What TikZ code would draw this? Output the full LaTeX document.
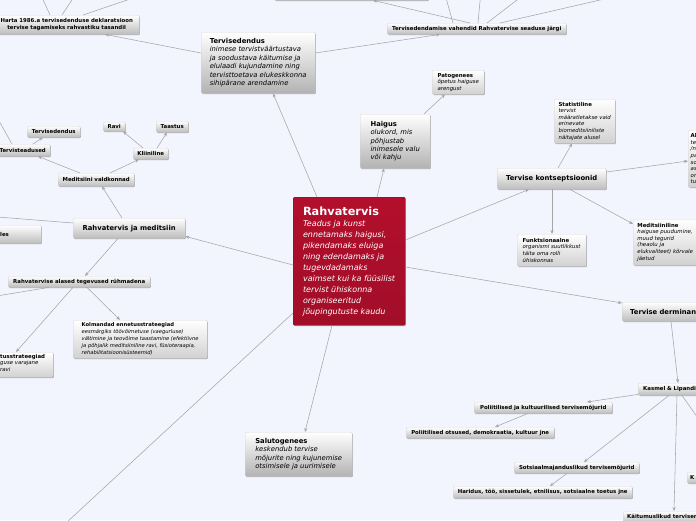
\documentclass[tikz,border=0pt]{standalone}
\usepackage{fontspec}
\setmainfont{DejaVu Sans}
\usetikzlibrary{arrows.meta,shadows}
\definecolor{bg}{HTML}{F2F5FD}
\definecolor{crim}{HTML}{B30F2C}
\definecolor{ln}{HTML}{A6A6A6}
\definecolor{bord}{HTML}{D4D4D4}
\tikzset{
  base/.style={anchor=north west, inner sep=0pt, draw=bord, line width=0.4pt, rounded corners=1.2pt,
    top color=white, bottom color=black!26,
    drop shadow={shadow xshift=0.7pt, shadow yshift=-0.9pt, opacity=0.3, fill=black}},
  lbl/.style={base, align=center, font=\fontsize{5.4}{6.6}\selectfont\bfseries},
  mid/.style={base, align=center, font=\fontsize{6.8}{8}\selectfont\bfseries},
  card/.style={base, align=left, bottom color=black!30, font=\fontsize{6.8}{8.4}\selectfont},
  mini/.style={base, align=left, bottom color=black!18, font=\fontsize{5.4}{6.6}\selectfont},
  cenbox/.style={base, top color=crim, bottom color=crim!90!black, draw=crim!80!black, text=white,
    align=left, font=\fontsize{8}{11}\selectfont},
  conn/.style={draw=ln, line width=0.55pt, -{Stealth[length=4pt,width=3.2pt]}},
  plain/.style={draw=ln, line width=0.55pt},
}
\begin{document}
\begin{tikzpicture}[x=1pt,y=-1pt]
\path[use as bounding box] (0,0) rectangle (696,520);
\fill[bg] (0,0) rectangle (696,520);

% central node
\node[cenbox, minimum width=112pt, minimum height=128pt] (cen) at (293,197)
 {{\fontsize{11.3}{13}\selectfont\bfseries Rahvatervis}\\\textit{Teadus ja kunst}\\\textit{ennetamaks haigusi,}\\\textit{pikendamaks eluiga}\\\textit{ning edendamaks ja}\\\textit{tugevdadamaks}\\\textit{vaimset kui ka füüsilist}\\\textit{tervist ühiskonna}\\\textit{organiseeritud}\\\textit{jõupingutuste kaudu}};

% top area
\node[lbl, minimum width=145pt, minimum height=19pt] (harta) at (-6,15) {Harta 1986.a tervisedenduse deklaratsioon\\tervise tagamiseks rahvastiku tasandil};
\node[lbl, minimum width=154pt, minimum height=20pt] (topb) at (274,-20) {};
\node[lbl, minimum width=179pt, minimum height=11pt] (vah) at (387,23) {Tervisedendamise vahendid Rahvatervise seaduse järgi};
\node[card, minimum width=114pt, minimum height=61pt] (terv) at (201,32) {\textbf{Tervisedendus}\\\textit{inimese tervistväärtustava}\\\textit{ja soodustava käitumise ja}\\\textit{elulaadi kujundamine ning}\\\textit{tervisttoetava elukeskkonna}\\\textit{sihipärane arendamine}};
\node[card, minimum width=70pt, minimum height=54pt] (haig) at (360,114) {\textbf{Haigus}\\\textit{olukord, mis}\\\textit{põhjustab}\\\textit{inimesele valu}\\\textit{või kahju}};
\node[mini, minimum width=52pt, minimum height=24pt] (pato) at (432,70) {\textbf{Patogenees}\\\textit{õpetus haiguse}\\\textit{arengust}};

% right area
\node[mid, minimum width=109pt, minimum height=21pt] (kont) at (497,168) {Tervise kontseptsioonid};
\node[mini, minimum width=61pt, minimum height=44pt] (stat) at (554,99) {\textbf{Statistiline}\\\textit{tervist}\\\textit{määratletakse vaid}\\\textit{erinevate}\\\textit{biomeditsiiniliste}\\\textit{näitajate alusel}};
\node[mini, text width=67pt, inner xsep=2.5pt, minimum height=57pt] (al) at (688,130) {\textbf{Al}\\\textit{te}\\\textit{/ne}\\\textit{pa}\\\textit{so}\\\textit{as}\\\textit{or}\\\textit{tu}};
\node[mini, minimum width=69pt, minimum height=32pt] (funk) at (517,234) {\textbf{Funktsionaalne}\\\textit{organismi suutlikkust}\\\textit{täita oma rolli}\\\textit{ühiskonnas}};
\node[mini, minimum width=64pt, minimum height=46pt] (medi) at (633,219) {\textbf{Meditsiiniline}\\\textit{haiguse puudumine,}\\\textit{muud tegurid}\\\textit{(heaolu ja}\\\textit{elukvaliteet) kõrvale}\\\textit{jäetud}};
\node[mid, align=left, text width=122pt, inner xsep=8pt, minimum height=19pt] (derm) at (622,302) {Tervise derminan};
\node[lbl, align=left, text width=112pt, inner xsep=5pt, minimum height=12pt] (kas) at (638,383) {Kasmel \& Lipandi};
\node[lbl, minimum width=138pt, minimum height=11pt] (pol1) at (474,402) {Poliitilised ja kultuurilised tervisemõjurid};
\node[lbl, minimum width=148pt, minimum height=11pt] (pol2) at (406,427) {Poliitilised otsused, demokraatia, kultuur jne};
\node[lbl, minimum width=125pt, minimum height=11pt] (sots) at (514,462) {Sotsiaalmajanduslikud tervisemõjurid};
\node[lbl, minimum width=179pt, minimum height=12pt] (har) at (453,486) {Haridus, töö, sissetulek, etnilisus, sotsiaalne toetus jne};
\node[lbl, align=left, text width=129pt, inner xsep=4pt, minimum height=12pt] (kait) at (623,511) {Käitumuslikud tervisemõjurid};
\node[lbl, align=left, text width=67pt, inner xsep=3pt, minimum height=11pt] (kk) at (687,472) {K};

% left area
\node[mid, minimum width=112pt, minimum height=20pt] (rjm) at (73,218) {Rahvatervis ja meditsiin};
\node[lbl, minimum width=101pt, minimum height=18pt] (lesb) at (-60,225) {};
\node[anchor=west, inner sep=0pt, font=\fontsize{5.4}{6.6}\selectfont\bfseries] (lest) at (0,234) {les};
\node[lbl, minimum width=76pt, minimum height=13pt] (mv) at (58,173) {Meditsiini valdkonnad};
\node[lbl, minimum width=55pt, minimum height=12pt] (tt) at (-5,144) {Tervisteadused};
\node[lbl, minimum width=53pt, minimum height=11pt] (td) at (27,126) {Tervisedendus};
\node[lbl, minimum width=35pt, minimum height=11pt] (kli) at (133,148) {Kliiniline};
\node[lbl, minimum width=22pt, minimum height=9pt] (ravi) at (103,122) {Ravi};
\node[lbl, minimum width=32pt, minimum height=11pt] (taas) at (156,121) {Taastus};
\node[lbl, minimum width=142pt, minimum height=11pt] (rag) at (8,276) {Rahvatervise alased tegevused rühmadena};
\node[mini, minimum width=134pt, minimum height=38pt, font=\fontsize{5.2}{7}\selectfont] (kolm) at (73,320) {\textbf{Kolmandad ennetusstrateegiad}\\\textit{eesmärgiks töövõimetuse (vaegurluse)}\\\textit{vältimine ja teovõime taastamine (efektiivne}\\\textit{ja põhjalik meditsiiniline ravi, füsioteraapia,}\\\textit{rehabilitatsioonisüsteemid)}};
\node[mini, minimum width=113pt, minimum height=25pt] (teib) at (-60,352) {};
\node[anchor=north west, inner sep=0pt, align=left, font=\fontsize{5.4}{6.6}\selectfont] (teit) at (0,354) {\textbf{tusstrateegiad}\\\textit{guse varajane}\\\textit{ravi}};
\node[card, minimum width=107pt, minimum height=44pt] (salu) at (245,432) {\textbf{Salutogenees}\\\textit{keskendub tervise}\\\textit{mõjurite ning kujunemise}\\\textit{otsimisele ja uurimisele}};

% off-canvas ends
\coordinate (o1) at (441,-20);
\coordinate (o2) at (482,-20);
\coordinate (o3) at (543,-20);
\coordinate (o4) at (687,-20);
\coordinate (h1) at (34,-20);
\coordinate (h2) at (85,-20);
\coordinate (h3) at (186,-20);
\coordinate (l1) at (-40,214);
\coordinate (l2) at (-10,105);
\coordinate (l3) at (-40,302);
\coordinate (osw) at (26,560);

% connectors from the centre
\draw[conn] ([xshift=24pt]cen.north west) -- ([xshift=72pt]terv.south west);
\draw[conn] ([xshift=84pt]cen.north west) -- ([xshift=24pt]haig.south west);
\draw[conn] ([yshift=-43pt]cen.north east) -- ([xshift=32pt]kont.south west);
\draw[conn] ([yshift=-70pt]cen.north east) -- ([yshift=-1pt]derm.north west);
\draw[conn] ([yshift=-68pt]cen.north west) -- ([yshift=2pt]rjm.south east);
\draw[plain] ([yshift=-116pt]cen.north west) -- (osw);
\draw[conn] ([xshift=39pt]cen.south west) -- ([xshift=60pt]salu.north west);

% top
\draw[conn] ([yshift=-21pt]terv.north east) -- ([xshift=53pt]vah.south west);
\draw[conn] ([yshift=-21pt]terv.north west) -- ([xshift=111pt]harta.south west);
\draw[conn] ([xshift=83pt]vah.north west) -- ([xshift=99pt]topb.south west);
\draw[plain] ([xshift=66pt]vah.north west) -- (o1);
\draw[plain] ([xshift=91pt]vah.north west) -- (o2);
\draw[plain] ([xshift=100pt]vah.north west) -- (o3);
\draw[plain] ([xshift=113pt]vah.north west) -- (o4);
\draw[plain] ([xshift=56pt]harta.north west) -- (h1);
\draw[plain] ([xshift=68pt]harta.north west) -- (h2);
\draw[plain] ([xshift=89pt]harta.north west) -- (h3);
\draw[conn] ([xshift=64pt]haig.north west) -- ([xshift=13pt]pato.south west);

% right
\draw[conn] ([xshift=61pt]kont.north west) -- ([xshift=18pt]stat.south west);
\draw[conn] ([yshift=-4pt]kont.north east) -- ([yshift=-31pt]al.north west);
\draw[conn] ([xshift=55pt]kont.south west) -- ([xshift=35pt]funk.north west);
\draw[conn] ([xshift=73pt]kont.south west) -- ([yshift=-5pt]medi.north west);
\draw[conn] ([xshift=49pt]derm.south west) -- ([xshift=40pt]kas.north west);
\draw[conn] ([yshift=1pt]kas.south west) -- ([xshift=113pt]pol1.north west);
\draw[conn] ([xshift=31pt]kas.south west) -- ([xshift=70pt]sots.north west);
\draw[conn] ([xshift=39pt]kas.south west) -- ([xshift=51pt]kait.north west);
\draw[conn] ([xshift=44pt]kas.south west) -- ([xshift=49pt]kk.north west);
\draw[conn] ([xshift=54pt]pol1.south west) -- ([xshift=89pt]pol2.north west);
\draw[conn] ([xshift=53pt]sots.south west) -- ([xshift=97pt]har.north west);

% left
\draw[conn] ([xshift=49pt]rjm.north west) -- ([xshift=44pt]mv.south west);
\draw[plain] ([yshift=-5pt]rjm.north west) -- (l1);
\draw[conn] ([xshift=22pt]mv.north west) -- ([xshift=43pt]tt.south west);
\draw[conn] ([xshift=52pt]mv.north west) -- ([xshift=6pt]kli.south west);
\draw[conn] ([xshift=38pt]tt.north west) -- ([xshift=16pt]td.south west);
\draw[plain] ([xshift=17pt]tt.north west) -- (l2);
\draw[conn] ([xshift=10pt]kli.north west) -- ([xshift=20pt]ravi.south west);
\draw[conn] ([xshift=24pt]kli.north west) -- ([xshift=11pt]taas.south west);
\draw[conn] ([xshift=45pt]rjm.south west) -- ([xshift=77pt]rag.north west);
\draw[plain] ([xshift=41pt]rag.south west) -- (l3);
\draw[conn] ([xshift=79pt]rag.south west) -- ([xshift=47pt]kolm.north west);
\draw[conn] ([xshift=65pt]rag.south west) -- ([xshift=76pt]teib.north west);
\end{tikzpicture}
\end{document}
